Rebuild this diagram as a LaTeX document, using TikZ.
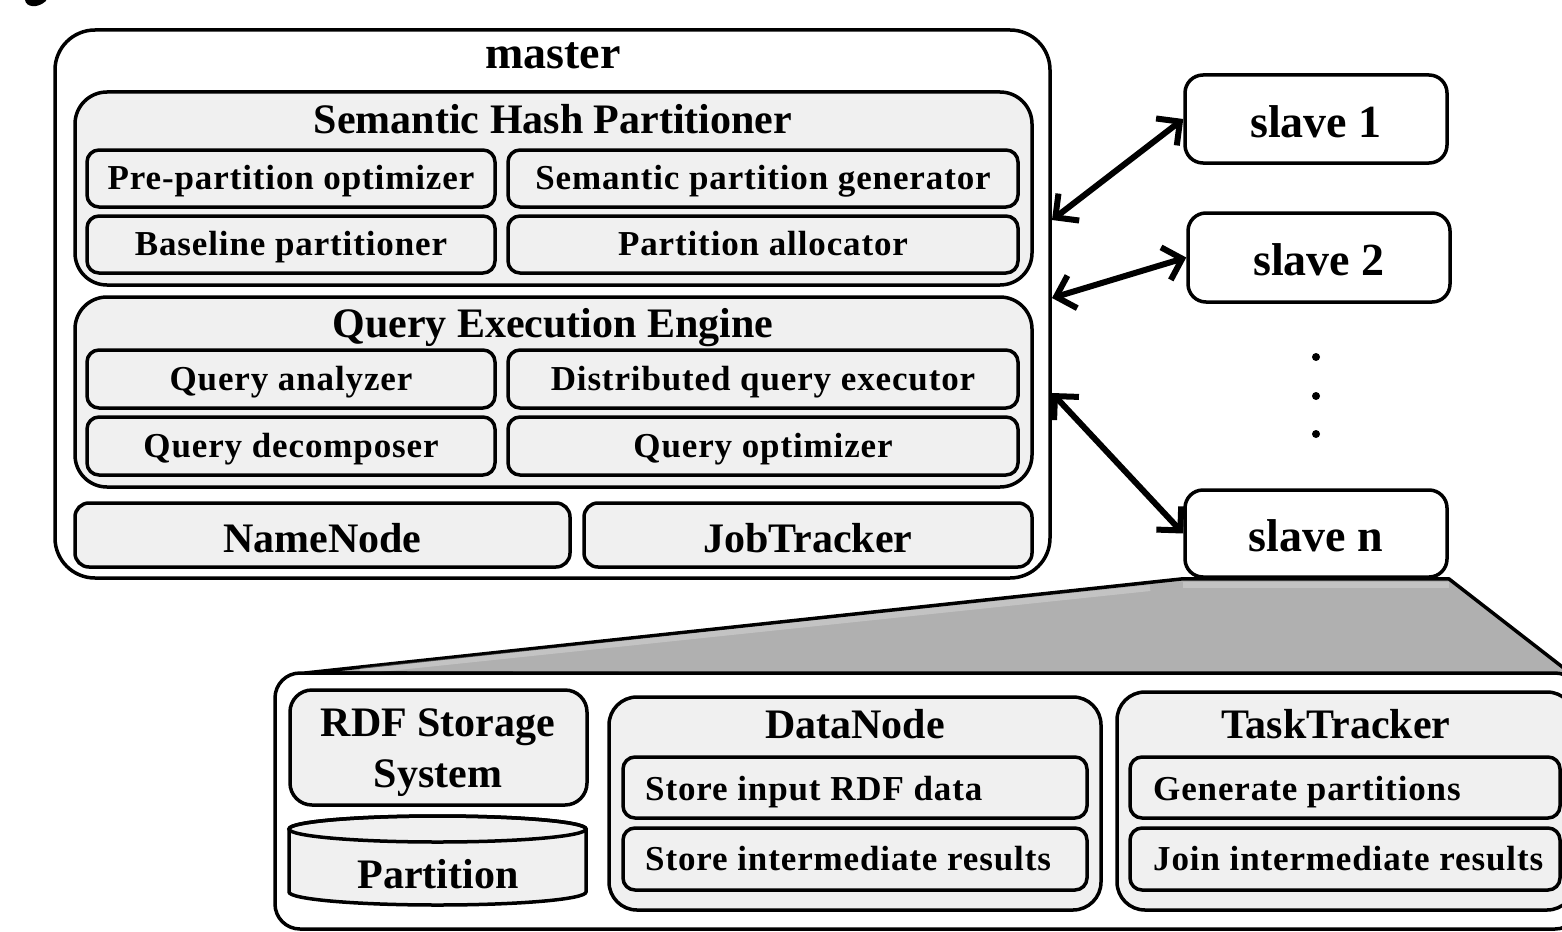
\documentclass[tikz,border=0pt]{standalone}
\usepackage{fontspec}
\setmainfont{Liberation Serif}
\newfontfamily\itemfam{Liberation Serif}[LetterSpace=2.5]
\usetikzlibrary{arrows.meta}
\definecolor{panel}{RGB}{240,240,240}
\definecolor{funnelgray}{RGB}{176,176,176}
\pgfdeclarelayer{back}
\pgfsetlayers{back,main}

\tikzset{
  frame/.style={draw, line width=3.5pt, fill=white, inner sep=0pt},
  outerbox/.style={frame, rounded corners=40pt},
  groupbox/.style={frame, fill=panel, rounded corners=32pt},
  itembox/.style={frame, fill=panel, rounded corners=12pt,
    font=\itemfam\bfseries\fontsize{35}{42}\selectfont,
    text height=28pt, text depth=6pt},
  bigbox/.style={frame, fill=panel, rounded corners=14pt,
    font=\bfseries\fontsize{42}{50}\selectfont,
    text height=36pt, text depth=2pt},
  slavebox/.style={frame, rounded corners=18pt,
    font=\bfseries\fontsize{46}{54}\selectfont,
    text height=38pt, text depth=2pt},
  hdr/.style={anchor=base, inner sep=0pt, font=\bfseries\fontsize{42}{51}\selectfont},
  lbl/.style={anchor=base west, inner sep=0pt, font=\itemfam\bfseries\fontsize{35}{42}\selectfont},
  link/.style={line width=6pt,
    {Straight Barb[length=17pt,width=34pt]}-{Straight Barb[length=17pt,width=34pt]}},
}

\begin{document}
\begin{tikzpicture}[x=1pt,y=-1pt]
\useasboundingbox (0,0) rectangle (1562,931);

% stray glyph fragment at the top-left corner
\fill (25,0) .. controls (26,7) and (37,9) .. (46,1) -- (46,0) -- cycle;

% ---------------- master ----------------
\node[outerbox, minimum width=995pt, minimum height=548pt] (master) at (552.5,304) {};
\node[anchor=base, inner sep=0pt, font=\bfseries\fontsize{46}{54}\selectfont] (mastert) at (553,69) {master};

\node[groupbox, minimum width=957pt, minimum height=193pt] (shp) at (553.5,188.5) {};
\node[hdr] (shpt) at (553,134) {Semantic Hash Partitioner};
\node[itembox, minimum width=408pt, minimum height=57pt] (ppo) at (291,178.5) {Pre-partition optimizer};
\node[itembox, minimum width=510pt, minimum height=57pt] (spg) at (763,178.5) {Semantic partition generator};
\node[itembox, minimum width=408pt, minimum height=57pt] (bp)  at (291,244.5) {Baseline partitioner};
\node[itembox, minimum width=510pt, minimum height=57pt] (pa)  at (763,244.5) {Partition allocator};

\node[groupbox, minimum width=957pt, minimum height=190pt] (qee) at (553.5,392) {};
\node[hdr] (qeet) at (553,337) {Query Execution Engine};
\node[itembox, minimum width=408pt, minimum height=58pt] (qa)  at (291,379) {Query analyzer};
\node[itembox, minimum width=510pt, minimum height=58pt] (dqe) at (763,379) {Distributed query executor};
\node[itembox, minimum width=408pt, minimum height=58pt] (qd)  at (291,446) {Query decomposer};
\node[itembox, minimum width=510pt, minimum height=58pt] (qo)  at (763,446) {Query optimizer};

\node[bigbox, minimum width=495pt, minimum height=64pt] (nn) at (322.5,535) {NameNode};
\node[bigbox, minimum width=448pt, minimum height=64pt] (jt) at (808,535) {JobTracker};

% ---------------- slaves ----------------
\node[slavebox, minimum width=262pt, minimum height=88pt] (s1) at (1316,119) {slave 1};
\node[slavebox, minimum width=262pt, minimum height=89pt] (s2) at (1319,257.5) {slave 2};
\node[slavebox, minimum width=262pt, minimum height=87pt] (sn) at (1316,533.5) {slave n};

\fill (1316,357) circle (4);
\fill (1316,396) circle (4);
\fill (1316,434) circle (4);

\coordinate (m1) at (1052,220);
\coordinate (m2) at (1052,298);
\coordinate (m3) at (1052,393);
\draw[link] (m1) -- (s1.west);
\draw[link] (m2) -- (s2.west);
\draw[link] (m3) -- (sn.west);

% ---------------- expanded slave ----------------
\begin{pgfonlayer}{back}
  \filldraw[fill=funnelgray, line width=3.5pt, line join=round]
    (sn.south west) -- (sn.south east) -- (1574,676) -- (305,673) -- cycle;
  \draw[white, opacity=.25, line width=6pt]
    ([yshift=-6pt]sn.south west) -- ([yshift=-6pt]sn.south east);
  \draw[white, opacity=.25, line width=6pt] (1150,588) -- (360,671);
\end{pgfonlayer}

\node[outerbox, rounded corners=25pt, minimum width=1305pt, minimum height=256pt] (detail) at (927.5,801) {};

\node[groupbox, rounded corners=22pt, minimum width=297pt, minimum height=115pt] (rdf) at (438.5,747.5) {};
\node[anchor=north, inner sep=0pt, align=center, font=\bfseries\fontsize{42}{51}\selectfont]
  (rdft) at (438,708.5) {RDF Storage\\System};

\filldraw[fill=panel, line width=3.5pt]
  (289,829) -- (289,892) arc[start angle=180, end angle=0, x radius=148.5, y radius=13]
  -- (586,829) arc[start angle=0, end angle=-180, x radius=148.5, y radius=13] -- cycle;
\draw[line width=3.5pt] (437.5,829) ellipse [x radius=148.5, y radius=13];
\node[hdr] (part) at (438,888) {Partition};

\node[groupbox, rounded corners=28pt, minimum width=492pt, minimum height=213pt] (dn) at (855,803.5) {};
\node[hdr] (dnt) at (855,738) {DataNode};
\node[itembox, minimum width=464pt, minimum height=61pt] (dn1) at (855,787.5) {};
\node[lbl] (dn1t) at (645,800) {Store input RDF data};
\node[itembox, minimum width=464pt, minimum height=62pt] (dn2) at (855,859) {};
\node[lbl] (dn2t) at (645,870) {Store intermediate results};

\node[groupbox, rounded corners=28pt, minimum width=458pt, minimum height=218pt] (tt) at (1346,801) {};
\node[hdr] (ttt) at (1336,738) {TaskTracker};
\node[itembox, minimum width=430pt, minimum height=61pt] (tt1) at (1345,787.5) {};
\node[lbl] (tt1t) at (1153,800) {Generate partitions};
\node[itembox, minimum width=430pt, minimum height=62pt] (tt2) at (1345,859) {};
\node[lbl] (tt2t) at (1153,870) {Join intermediate results};
\end{tikzpicture}
\end{document}
